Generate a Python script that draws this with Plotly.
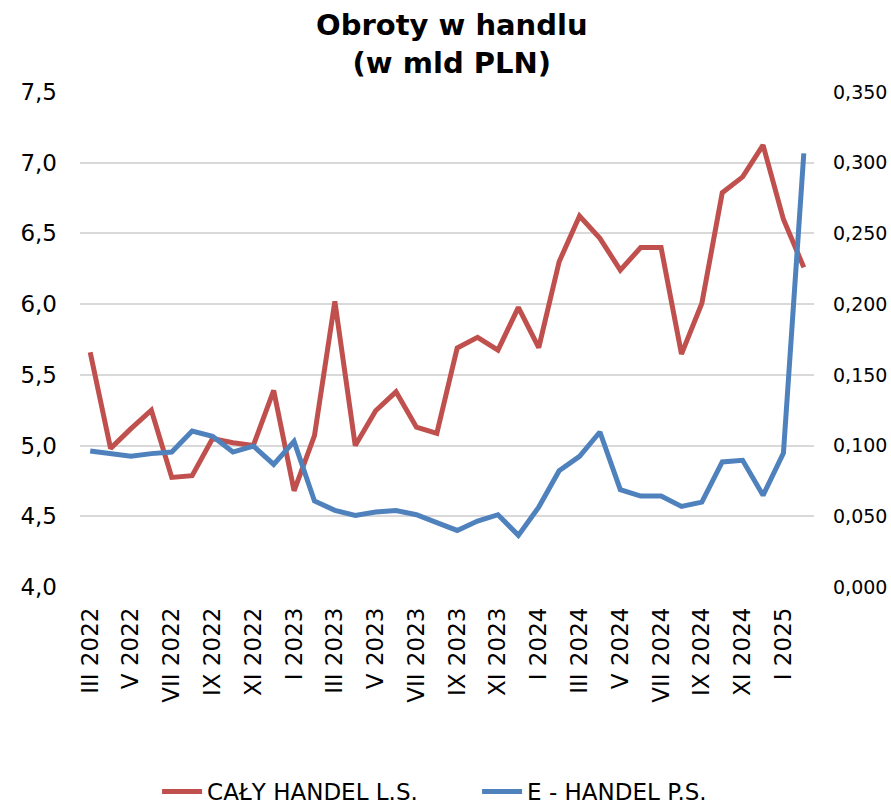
import plotly.graph_objects as go

# months III 2022 .. II 2025
months = ["III", "IV", "V", "VI", "VII", "VIII", "IX", "X", "XI", "XII", "I", "II"]
years = [2022] * 10 + [2023] * 12 + [2024] * 12 + [2025] * 2
labels = [f"{months[i % 12]} {y}" for i, y in enumerate(years)]

caly_handel = [5.66, 4.98, 5.12, 5.25, 4.775, 4.787, 5.05, 5.02, 5.0, 5.39,
               4.68, 5.07, 6.02, 5.0, 5.246, 5.38, 5.13, 5.086, 5.69, 5.765,
               5.675, 5.977, 5.692, 6.30, 6.623, 6.465, 6.241, 6.40, 6.40, 5.647,
               6.006, 6.788, 6.90, 7.125, 6.60, 6.26]
e_handel = [0.0961, 0.0943, 0.0924, 0.0943, 0.0954, 0.1103, 0.1065, 0.0954, 0.0997, 0.0867,
            0.103, 0.0608, 0.0542, 0.0506, 0.053, 0.054, 0.0511, 0.0455, 0.040, 0.0466,
            0.0511, 0.0365, 0.0565, 0.0822, 0.0924, 0.1096, 0.0688, 0.0643, 0.0643, 0.057,
            0.060, 0.0884, 0.0896, 0.0648, 0.0947, 0.3066]

RED = "#C0504D"
BLUE = "#4F81BD"
FONT = "DejaVu Sans"

x = list(range(len(labels)))

fig = go.Figure()
fig.add_trace(go.Scatter(x=x, y=caly_handel, name="CAŁY HANDEL L.S.", mode="lines",
                         line=dict(color=RED, width=5)))
fig.add_trace(go.Scatter(x=x, y=e_handel, name="E - HANDEL P.S.", mode="lines",
                         line=dict(color=BLUE, width=5), yaxis="y2"))

# title as an annotation so it does not move the plot area
fig.add_annotation(text="<b>Obroty w handlu<br>(w mld PLN)</b>", xref="paper", yref="paper",
                   x=0.507, y=1.097, xanchor="center", yanchor="middle", showarrow=False,
                   font=dict(size=29, family=FONT, color="black"))

fig.update_layout(
    width=891, height=808,
    margin=dict(l=80, r=77, t=92, b=221, autoexpand=False),
    paper_bgcolor="white", plot_bgcolor="white",
    separators=", ",
    font=dict(family=FONT, color="black", size=21),
    xaxis=dict(range=[-0.5, len(x) - 0.5], tickvals=x[::2], ticktext=labels[::2],
               tickangle=-90, showgrid=False, zeroline=False, ticks="",
               tickfont=dict(size=23), ticklabelstandoff=15),
    yaxis=dict(range=[4.0, 7.5], dtick=0.5, tickformat=".1f", showgrid=True,
               gridcolor="#D9D9D9", gridwidth=1.5, zeroline=False, ticks="",
               tickfont=dict(size=23), ticklabelstandoff=22),
    yaxis2=dict(range=[0, 0.35], dtick=0.05, tickformat=".3f", overlaying="y",
                side="right", showgrid=False, zeroline=False, ticks="",
                tickfont=dict(size=19), ticklabelstandoff=18),
    legend=dict(orientation="h", x=0.105, xanchor="left", y=-0.413, yanchor="middle",
                font=dict(size=23, family=FONT), itemwidth=40, tracegroupgap=0,
                entrywidth=265),
    showlegend=True,
)

# drop the page's default body margin so the figure fills the window
fig.write_html("out.html", config={"displayModeBar": False},
               post_script="document.body.style.margin='0';document.body.style.overflow='hidden';")
